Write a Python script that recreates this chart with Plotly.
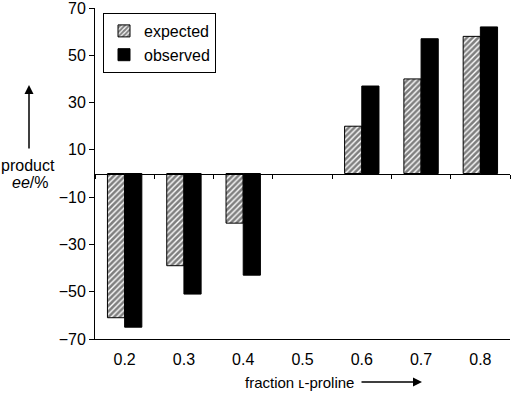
import plotly.graph_objects as go

categories = ["0.2", "0.3", "0.4", "0.5", "0.6", "0.7", "0.8"]
expected = [-61, -39, -21, None, 20, 40, 58]
observed = [-65, -51, -43, None, 37, 57, 62]
y_ticks = [-70, -50, -30, -10, 10, 30, 50, 70]

W, H = 513, 393
L, R, T, B = 95, 3, 8, 54
pw, ph = W - L - R, H - T - B

def px(x):
    return (x - L) / pw

def py(y):
    return (H - B - y) / ph

FONT = "Liberation Sans, Arial, sans-serif"

fig = go.Figure()
fig.add_trace(go.Bar(
    x=categories, y=expected, name="expected", legendgroup="a",
    marker=dict(color="white", line=dict(color="black", width=1),
                pattern=dict(shape="/", fgcolor="black", bgcolor="white", size=4, solidity=0.65)),
))
fig.add_trace(go.Bar(
    x=categories, y=observed, name="observed", legendgroup="b",
    marker=dict(color="black", line=dict(color="black", width=1)),
))
# invisible trace to carry the zero-crossing category axis
fig.add_trace(go.Scatter(x=categories, y=[0]*len(categories), xaxis="x2",
                         mode="markers", marker=dict(opacity=0), showlegend=False, hoverinfo="skip"))

fig.update_layout(
    width=W, height=H,
    margin=dict(l=L, r=R, t=T, b=B, autoexpand=False),
    paper_bgcolor="white", plot_bgcolor="white",
    barmode="group", bargap=0.42, bargroupgap=0,
    font=dict(family=FONT, size=16, color="black"),
    showlegend=True,
    legend=dict(x=px(103), y=py(13), xanchor="left", yanchor="top",
                bordercolor="black", borderwidth=1, bgcolor="white",
                font=dict(size=16), tracegroupgap=0, itemwidth=30,
                entrywidth=125, entrywidthmode="pixels"),
    xaxis=dict(type="category", categoryorder="array", categoryarray=categories,
               range=[-0.5, 6.5], showline=True, linecolor="black", linewidth=1,
               ticks="outside", ticklen=6, tickcolor="rgba(0,0,0,0)",
               showgrid=False, zeroline=False, tickfont=dict(size=16)),
    xaxis2=dict(type="category", categoryorder="array", categoryarray=categories,
                range=[-0.5, 6.5], overlaying="x", anchor="free", position=0.5,
                showline=True, linecolor="black", linewidth=1,
                ticks="outside", ticklen=4, tickcolor="black", tickson="boundaries",
                showticklabels=False, showgrid=False, zeroline=False),
    yaxis=dict(range=[-70, 70], tickvals=y_ticks, showline=True, linecolor="black",
               linewidth=1, ticks="outside", ticklen=5, tickcolor="black",
               showgrid=False, zeroline=False, tickfont=dict(size=16),
               ticklabeloverflow="allow"),
)

fig.add_annotation(x=px(29), y=py(85), xref="paper", yref="paper", text="",
                   showarrow=True, arrowhead=2, arrowsize=1.2, arrowwidth=1.5,
                   arrowcolor="black", ax=0, ay=65)
fig.add_annotation(x=px(28), y=py(165), xref="paper", yref="paper", text="product",
                   xanchor="center", yanchor="middle", showarrow=False, font=dict(size=16))
fig.add_annotation(x=px(30), y=py(183), xref="paper", yref="paper", text="<i>ee</i>/%",
                   xanchor="center", yanchor="middle", showarrow=False, font=dict(size=16))
fig.add_annotation(x=px(299), y=py(382), xref="paper", yref="paper", text="fraction ʟ-proline",
                   xanchor="center", yanchor="middle", showarrow=False, font=dict(size=15))
fig.add_annotation(x=px(422), y=py(382), xref="paper", yref="paper", text="",
                   showarrow=True, arrowhead=2, arrowsize=1.2, arrowwidth=1.5,
                   arrowcolor="black", ax=-62, ay=0)

fig.write_html("out.html", config={"displayModeBar": False},
               post_script="document.body.style.margin='0';document.body.style.overflow='hidden';")
